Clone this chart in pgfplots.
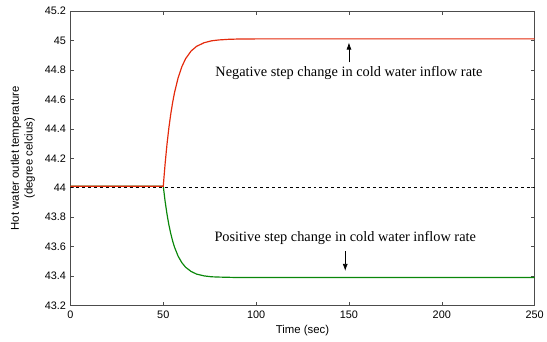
\documentclass[border=0pt]{standalone}
\usepackage{pgfplots}
\pgfplotsset{compat=1.18}
\usetikzlibrary{arrows.meta}
\usepackage{fontspec}
\setmainfont{Liberation Sans}
\newfontfamily\timesfont{Liberation Serif}
\definecolor{myred}{RGB}{228,42,12}
\definecolor{mygreen}{RGB}{10,135,10}
\begin{document}
\begin{tikzpicture}
\begin{axis}[
  name=ax,
  scale only axis,
  width=468bp, height=297bp,
  xmin=0, xmax=250, ymin=43.2, ymax=45.2,
  xtick={0,50,100,150,200,250},
  ytick={43.2,43.4,43.6,43.8,44,44.2,44.4,44.6,44.8,45,45.2},
  yticklabel style={/pgf/number format/fixed, xshift=-1bp},
  xticklabel style={yshift=-2bp},
  tick align=inside,
  major tick length=4bp,
  tick style={black!70, line width=0.5pt},
  axis line style={black!70, line width=0.6pt},
  /pgf/number format/assume math mode=true,
  ticklabel style={font=\fontsize{11}{13}\selectfont},
  xlabel={Time (sec)},
  xlabel style={font=\fontsize{11.5}{13}\selectfont, yshift=0bp},
  ylabel={Hot water outlet temperature\\(degree celcius)},
  ylabel style={align=center, font=\fontsize{11.5}{14}\selectfont, yshift=3bp},
  clip=true,
]
\addplot[black, dashed, line width=0.5pt] coordinates {(0,44.0) (250,44.0)};
\addplot[mygreen, line width=1.2pt] coordinates {
(0,44.01) (50,44.01) (51,43.907) (52,43.821) (53,43.749) (54,43.690) (55,43.640)
(56,43.598) (58,43.535) (60,43.491) (62,43.460) (65,43.431) (68,43.413)
(72,43.401) (76,43.395) (80,43.393) (90,43.39) (250,43.39)};
\addplot[myred, line width=1.2pt] coordinates {
(0,44.01) (50,44.01) (51,44.163) (52,44.294) (53,44.404) (54,44.497) (55,44.575)
(56,44.642) (58,44.746) (60,44.821) (62,44.875) (65,44.928) (68,44.960)
(72,44.984) (76,44.997) (80,45.003) (85,45.007) (90,45.009) (100,45.01) (250,45.01)};
\draw[-{Latex[length=7bp,width=5bp]}, black, line width=0.7pt] (axis cs:150,44.85) -- (axis cs:150,44.985);
\draw[-{Latex[length=7bp,width=5bp]}, black, line width=0.7pt] (axis cs:148,43.57) -- (axis cs:148,43.435);
\node[font=\timesfont\fontsize{14.5}{16}\selectfont] at (axis cs:150,44.78) {Negative step change in cold water inflow rate};
\node[font=\timesfont\fontsize{14.5}{16}\selectfont] at (axis cs:148,43.655) {Positive step change in cold water inflow rate};
\end{axis}
\path[use as bounding box] ([xshift=-71bp,yshift=-36bp]ax.south west) rectangle ([xshift=8bp,yshift=11bp]ax.north east);
\end{tikzpicture}
\end{document}
